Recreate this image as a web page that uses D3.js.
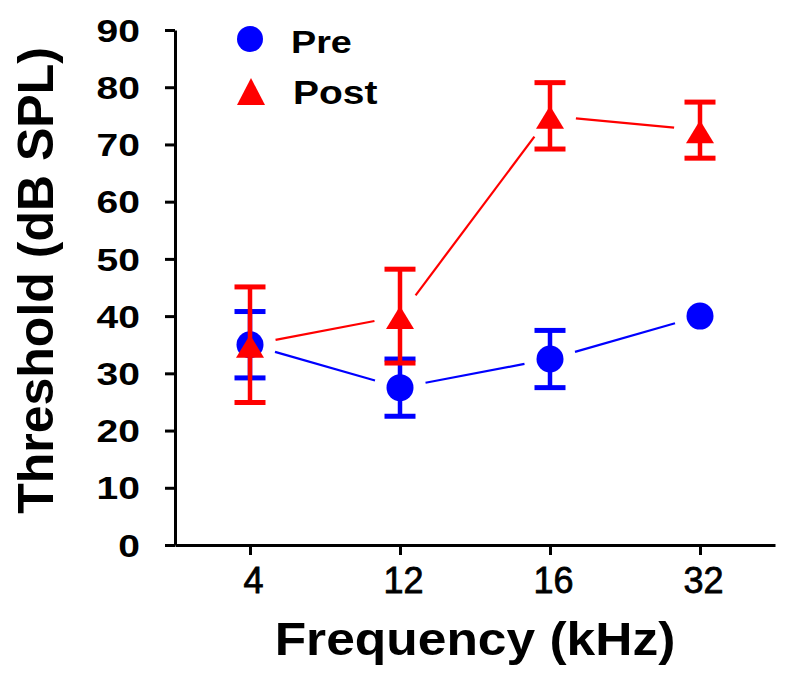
<!DOCTYPE html>
<html>
<head>
<meta charset="utf-8">
<script src="https://cdn.jsdelivr.net/npm/d3@7"></script>
<style>
  html, body { margin: 0; padding: 0; background: #fff; }
  svg { display: block; }
  text { font-family: "Liberation Sans", Arial, sans-serif; fill: #000; }
</style>
</head>
<body>
<svg id="chart" width="800" height="677"></svg>
<script>
// ---- data ----
const categories = ["4", "12", "16", "32"];
const preMean  = [35, 27.5, 32.5, 40];
const preErr   = [5.8, 5.0, 5.0, null];
const postMean = [35, 40, 75, 72.5];
const postErr  = [10.1, 8.2, 5.8, 4.9];
const yTicks   = [0, 10, 20, 30, 40, 50, 60, 70, 80, 90];
const seriesNames = ["Pre", "Post"];
const seriesColors = ["#0000ff", "#ff0000"];
const xTitle = "Frequency (kHz)";
const yTitle = "Threshold (dB SPL)";

(function () {
// ---- layout ----
const svg = d3.select("#chart");
const mLeft = 175, mRight = 775, mTop = 30, mBottom = 545;

const x = d3.scalePoint().domain(categories).range([mLeft, mRight]).padding(0.5);
const y = d3.scaleLinear().domain([0, 90]).range([mBottom, mTop]);

// ---- axes ----
const yAxis = svg.append("g").attr("transform", `translate(${mLeft},0)`)
  .call(d3.axisLeft(y).tickValues(yTicks).tickSize(10).tickSizeOuter(0));
yAxis.select(".domain").attr("stroke", "#000").attr("stroke-width", 3);
yAxis.selectAll(".tick line").attr("stroke", "#000").attr("stroke-width", 3);
yAxis.selectAll(".tick text")
  .attr("x", -35 / 1.22)
  .attr("dy", "0.35em")
  .attr("transform", "scale(1.22,1)")
  .style("font-size", "32px").style("font-weight", "bold");

const xAxis = svg.append("g").attr("transform", `translate(0,${mBottom})`)
  .call(d3.axisBottom(x).tickSize(10).tickSizeOuter(0).tickPadding(12));
xAxis.select(".domain").attr("stroke", "#000").attr("stroke-width", 3);
xAxis.selectAll(".tick line").attr("stroke", "#000").attr("stroke-width", 3);
xAxis.selectAll(".tick text")
  .attr("x", 3)
  .attr("stroke", "#000").attr("stroke-width", 0.8)
  .style("font-size", "36px").style("font-weight", "normal");

// ---- titles ----
svg.append("text")
  .attr("transform", `translate(53,${(48 + 513) / 2}) rotate(-90)`)
  .attr("text-anchor", "middle")
  .style("font-size", "50px").style("font-weight", "bold")
  .text(yTitle);

svg.append("g").attr("transform", `translate(${(mLeft + mRight) / 2},655) scale(1.12,1)`)
  .append("text")
  .attr("text-anchor", "middle")
  .style("font-size", "46px").style("font-weight", "bold")
  .text(xTitle);

// ---- helpers ----
const gap = 26;
function drawSeries(means, errs, color, shape) {
  const pts = means.map((m, i) => [x(categories[i]), y(m)]);
  const g = svg.append("g");
  for (let i = 0; i < pts.length - 1; i++) {
    const [x1, y1] = pts[i], [x2, y2] = pts[i + 1];
    const dx = x2 - x1, dy = y2 - y1, len = Math.hypot(dx, dy);
    const ux = dx / len, uy = dy / len;
    g.append("line")
      .attr("x1", x1 + ux * gap).attr("y1", y1 + uy * gap)
      .attr("x2", x2 - ux * gap).attr("y2", y2 - uy * gap)
      .attr("stroke", color).attr("stroke-width", 2.2);
  }
  means.forEach((m, i) => {
    const e = errs[i];
    if (e == null) return;
    const cx = x(categories[i]);
    const yt = y(m + e), yb = y(m - e);
    g.append("line").attr("x1", cx).attr("x2", cx).attr("y1", yt).attr("y2", yb)
      .attr("stroke", color).attr("stroke-width", 4.5);
    [yt, yb].forEach(yy => {
      g.append("line").attr("x1", cx - 15.5).attr("x2", cx + 15.5).attr("y1", yy).attr("y2", yy)
        .attr("stroke", color).attr("stroke-width", 5);
    });
  });
  pts.forEach(([px, py]) => {
    if (shape === "circle") {
      g.append("circle").attr("cx", px).attr("cy", py).attr("r", 13.5).attr("fill", color);
    } else {
      g.append("path")
        .attr("d", `M${px},${py - 10}L${px + 14},${py + 13}L${px - 14},${py + 13}Z`)
        .attr("fill", color);
    }
  });
}

drawSeries(preMean, preErr, seriesColors[0], "circle");
drawSeries(postMean, postErr, seriesColors[1], "triangle");

// ---- legend ----
const lg = svg.append("g");
lg.append("circle").attr("cx", 250).attr("cy", 39).attr("r", 13).attr("fill", seriesColors[0]);
lg.append("path").attr("d", "M251,78L265,105L237,105Z").attr("fill", seriesColors[1]);
lg.append("g").attr("transform", "translate(291,53) scale(1.18,1)")
  .append("text").style("font-size", "32px").style("font-weight", "bold").text(seriesNames[0]);
lg.append("g").attr("transform", "translate(293,104) scale(1.18,1)")
  .append("text").style("font-size", "33px").style("font-weight", "bold").text(seriesNames[1]);
})();
</script>
</body>
</html>
